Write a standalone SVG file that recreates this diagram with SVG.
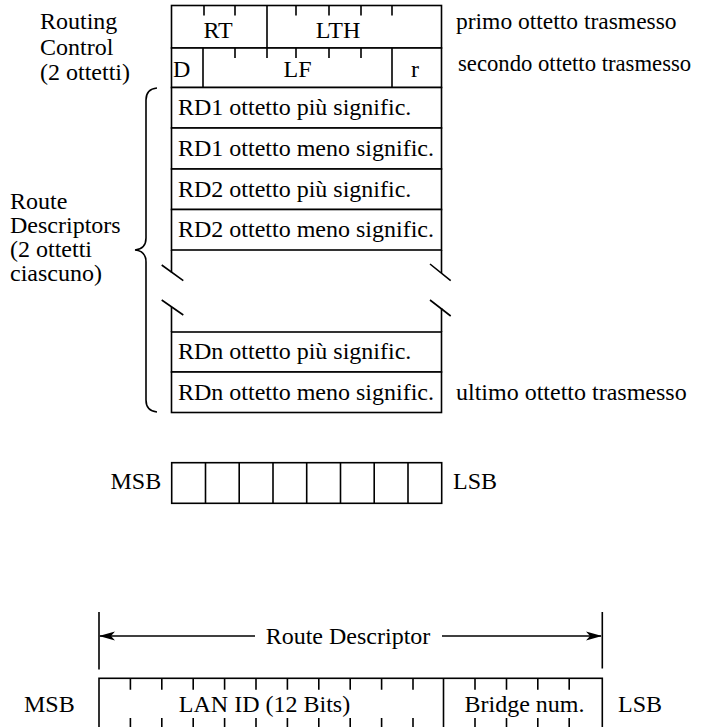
<svg xmlns="http://www.w3.org/2000/svg" width="706" height="727" viewBox="0 0 706 727">
<style>
text{font-family:"Liberation Serif","Times New Roman",serif;font-size:24px;fill:#000}
.ln{fill:none;stroke:#000;stroke-width:1.6}
.bx{fill:#fff;stroke:#000;stroke-width:1.6}
.m{text-anchor:middle}
</style>
<defs>
<marker id="ah" viewBox="0 0 16 10" refX="15" refY="5" markerWidth="16" markerHeight="10" markerUnits="userSpaceOnUse" orient="auto">
<path d="M0,0.5 L16,5 L0,9.5 L4,5 Z" fill="#000"/>
</marker>
</defs>
<rect width="706" height="727" fill="#fff"/>

<g id="routing-control-label">
<text x="40" y="29">Routing</text>
<text x="40" y="55">Control</text>
<text x="40" y="80">(2 ottetti)</text>
</g>

<g id="row-rt-lth">
<rect class="bx" x="171.5" y="5.5" width="270" height="42.5"/>
<path class="ln" d="M267,5.5V48 M204,5.5V15.5 M235,5.5V15.5 M296,5.5V15.5 M329,5.5V15.5 M361,5.5V15.5 M392,5.5V15.5"/>
<text class="m" x="218" y="37.5">RT</text>
<text class="m" x="338" y="37.5">LTH</text>
</g>
<g id="row-d-lf-r">
<rect class="bx" x="171.5" y="48" width="270" height="39.5"/>
<path class="ln" d="M203,48V87.5 M392,48V87.5 M235,48V58 M267,48V58 M296,48V58 M329,48V58 M361,48V58"/>
<text x="173" y="77">D</text>
<text class="m" x="297.5" y="77">LF</text>
<text class="m" x="415" y="77">r</text>
</g>
<g id="label-primo"><text x="456" y="29" style="font-size:23.5px">primo ottetto trasmesso</text></g>
<g id="label-secondo"><text x="458" y="71" style="font-size:22.7px">secondo ottetto trasmesso</text></g>

<g id="rd1-msb"><rect class="bx" x="171.5" y="87.5" width="270" height="40.5"/><text x="178" y="115">RD1 ottetto più signific.</text></g>
<g id="rd1-lsb"><rect class="bx" x="171.5" y="128" width="270" height="41"/><text x="178" y="156">RD1 ottetto meno signific.</text></g>
<g id="rd2-msb"><rect class="bx" x="171.5" y="169" width="270" height="40.5"/><text x="178" y="197">RD2 ottetto più signific.</text></g>
<g id="rd2-lsb"><rect class="bx" x="171.5" y="209.5" width="270" height="40.5"/><text x="178" y="237">RD2 ottetto meno signific.</text></g>

<g id="gap">
<path class="ln" d="M171.5,250V272.5 M441.5,250V273 M171.5,307V332 M441.5,308V332"/>
<path class="ln" d="M161.7,265L183.3,280.7 M161.7,300L183.3,315 M430,264L450.7,280.7 M430,300L450.7,316"/>
</g>

<g id="rdn-msb"><rect class="bx" x="171.5" y="332" width="270" height="40"/><text x="178" y="359">RDn ottetto più signific.</text></g>
<g id="rdn-lsb"><rect class="bx" x="171.5" y="372" width="270" height="40.5"/><text x="178" y="400">RDn ottetto meno signific.</text></g>
<g id="label-ultimo"><text x="456" y="400">ultimo ottetto trasmesso</text></g>

<g id="brace">
<path class="ln" d="M157,88 Q146,89 146,100 L146,238 Q146,249 135,250 Q146,251 146,262 L146,400 Q146,411 157,412"/>
</g>
<g id="route-descriptors-label">
<text x="10" y="209">Route</text>
<text x="10" y="233">Descriptors</text>
<text x="10" y="257">(2 ottetti</text>
<text x="10" y="281">ciascuno)</text>
</g>

<g id="byte">
<text x="110.5" y="489">MSB</text>
<rect class="bx" x="171.7" y="462.7" width="270" height="40.6"/>
<path class="ln" d="M205.5,462.7V503.3 M239.2,462.7V503.3 M273,462.7V503.3 M306.7,462.7V503.3 M340.5,462.7V503.3 M374.2,462.7V503.3 M408,462.7V503.3"/>
<text x="453" y="489">LSB</text>
</g>

<g id="connectors">
<path class="ln" d="M99,612V669.5 M602.3,612V668.5"/>
<path class="ln" d="M255,636H100" marker-end="url(#ah)"/>
<path class="ln" d="M442,636H601" marker-end="url(#ah)"/>
</g>
<g id="route-descriptor-label"><text class="m" x="348" y="644">Route Descriptor</text></g>

<g id="rd-format">
<text x="24" y="712">MSB</text>
<rect class="bx" x="99" y="678.3" width="503.3" height="50"/>
<path class="ln" d="M443.5,678.3V728"/>
<path class="ln" d="M130.4,678.3v11.5 M161.8,678.3v11.5 M193.2,678.3v11.5 M224.6,678.3v11.5 M256,678.3v11.5 M287.4,678.3v11.5 M318.8,678.3v11.5 M350.2,678.3v11.5 M381.6,678.3v11.5 M413,678.3v11.5 M475,678.3v11.5 M506.5,678.3v11.5 M537.8,678.3v11.5 M569.2,678.3v11.5"/>
<path class="ln" d="M130.4,718v10 M161.8,718v10 M193.2,718v10 M224.6,718v10 M256,718v10 M287.4,718v10 M318.8,718v10 M350.2,718v10 M381.6,718v10 M413,718v10 M475,718v10 M506.5,718v10 M537.8,718v10 M569.2,718v10"/>
<text class="m" x="264.5" y="712">LAN ID (12 Bits)</text>
<text class="m" x="524.5" y="712">Bridge num.</text>
<text x="618" y="712">LSB</text>
</g>
</svg>
